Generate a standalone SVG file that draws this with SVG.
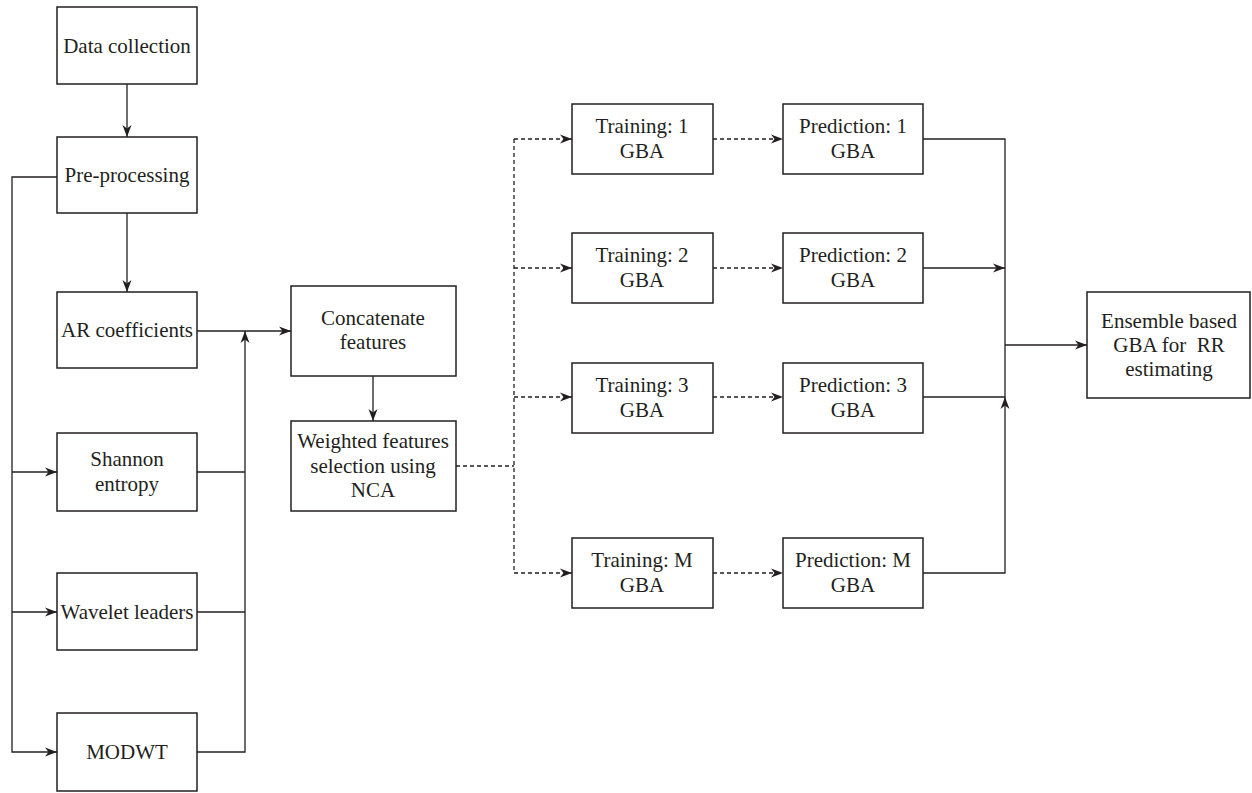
<svg xmlns="http://www.w3.org/2000/svg" width="1252" height="793" viewBox="0 0 1252 793">
  <style>
    .box { fill: #ffffff; stroke: #231f20; stroke-width: 1.5; }
    .lbl { font-family: "Liberation Serif", "Times New Roman", serif; font-size: 21px; fill: #231f20; text-anchor: middle; }
    .wire { fill: none; stroke: #231f20; stroke-width: 1.3; }
    .dash { stroke-dasharray: 4 3; }
  </style>
  <defs>
    <marker id="arrow" markerUnits="userSpaceOnUse" markerWidth="13" markerHeight="11" refX="12" refY="5.5" orient="auto">
      <path d="M0,1 L12,5.5 L0,10 L3.5,5.5 z" fill="#231f20"/>
    </marker>
  </defs>
  <rect width="1252" height="793" fill="#ffffff"/>

  <!-- connectors -->
  <g id="connectors">
    <line class="wire" x1="127" y1="84" x2="127" y2="137" marker-end="url(#arrow)"/>
    <line class="wire" x1="127" y1="213" x2="127" y2="292" marker-end="url(#arrow)"/>
    <path class="wire" d="M57,177 H12 V752 H57" marker-end="url(#arrow)"/>
    <path class="wire" d="M12,472 H57" marker-end="url(#arrow)"/>
    <path class="wire" d="M12,612 H57" marker-end="url(#arrow)"/>
    <path class="wire" d="M197,331 H291" marker-end="url(#arrow)"/>
    <path class="wire" d="M197,472 H245"/>
    <path class="wire" d="M197,612 H245"/>
    <path class="wire" d="M197,752 H245 V331" marker-end="url(#arrow)"/>
    <line class="wire" x1="373" y1="376" x2="373" y2="421" marker-end="url(#arrow)"/>

    <path class="wire dash" d="M456,466 H514"/>
    <path class="wire dash" d="M514,139 V573"/>
    <path class="wire dash" d="M514,139 H572" marker-end="url(#arrow)"/>
    <path class="wire dash" d="M514,268 H572" marker-end="url(#arrow)"/>
    <path class="wire dash" d="M514,397 H572" marker-end="url(#arrow)"/>
    <path class="wire dash" d="M514,573 H572" marker-end="url(#arrow)"/>
    <path class="wire dash" d="M713,139 H783" marker-end="url(#arrow)"/>
    <path class="wire dash" d="M713,268 H783" marker-end="url(#arrow)"/>
    <path class="wire dash" d="M713,397 H783" marker-end="url(#arrow)"/>
    <path class="wire dash" d="M713,573 H783" marker-end="url(#arrow)"/>

    <path class="wire" d="M923,139 H1005 V397"/>
    <path class="wire" d="M923,268 H1005" marker-end="url(#arrow)"/>
    <path class="wire" d="M923,397 H1005"/>
    <path class="wire" d="M923,573 H1005 V397" marker-end="url(#arrow)"/>
    <path class="wire" d="M1005,345 H1087" marker-end="url(#arrow)"/>
  </g>

  <!-- left column -->
  <g id="data-collection">
    <rect class="box" x="57" y="7" width="140" height="77"/>
    <text class="lbl" x="127" y="53">Data collection</text>
  </g>
  <g id="pre-processing">
    <rect class="box" x="57" y="137" width="140" height="76"/>
    <text class="lbl" x="127" y="182">Pre-processing</text>
  </g>
  <g id="ar-coefficients">
    <rect class="box" x="57" y="292" width="140" height="76"/>
    <text class="lbl" x="127" y="337">AR coefficients</text>
  </g>
  <g id="shannon-entropy">
    <rect class="box" x="57" y="433" width="140" height="78"/>
    <text class="lbl" x="127" y="466">Shannon</text>
    <text class="lbl" x="127" y="491">entropy</text>
  </g>
  <g id="wavelet-leaders">
    <rect class="box" x="57" y="573" width="140" height="77"/>
    <text class="lbl" x="127" y="619">Wavelet leaders</text>
  </g>
  <g id="modwt">
    <rect class="box" x="57" y="713" width="140" height="78"/>
    <text class="lbl" x="127" y="759">MODWT</text>
  </g>

  <!-- feature fusion -->
  <g id="concatenate">
    <rect class="box" x="291" y="286" width="165" height="90"/>
    <text class="lbl" x="373" y="325">Concatenate</text>
    <text class="lbl" x="373" y="349">features</text>
  </g>
  <g id="nca-selection">
    <rect class="box" x="291" y="421" width="165" height="90"/>
    <text class="lbl" x="373" y="448">Weighted features</text>
    <text class="lbl" x="373" y="473">selection using</text>
    <text class="lbl" x="373" y="497">NCA</text>
  </g>

  <!-- training models -->
  <g id="training-1">
    <rect class="box" x="572" y="104" width="141" height="70"/>
    <text class="lbl" x="642" y="133">Training: 1</text>
    <text class="lbl" x="642" y="158">GBA</text>
  </g>
  <g id="training-2">
    <rect class="box" x="572" y="233" width="141" height="70"/>
    <text class="lbl" x="642" y="262">Training: 2</text>
    <text class="lbl" x="642" y="287">GBA</text>
  </g>
  <g id="training-3">
    <rect class="box" x="572" y="363" width="141" height="70"/>
    <text class="lbl" x="642" y="392">Training: 3</text>
    <text class="lbl" x="642" y="417">GBA</text>
  </g>
  <g id="training-m">
    <rect class="box" x="572" y="538" width="141" height="70"/>
    <text class="lbl" x="642" y="567">Training: M</text>
    <text class="lbl" x="642" y="592">GBA</text>
  </g>

  <!-- prediction models -->
  <g id="prediction-1">
    <rect class="box" x="783" y="104" width="140" height="70"/>
    <text class="lbl" x="853" y="133">Prediction: 1</text>
    <text class="lbl" x="853" y="158">GBA</text>
  </g>
  <g id="prediction-2">
    <rect class="box" x="783" y="233" width="140" height="70"/>
    <text class="lbl" x="853" y="262">Prediction: 2</text>
    <text class="lbl" x="853" y="287">GBA</text>
  </g>
  <g id="prediction-3">
    <rect class="box" x="783" y="363" width="140" height="70"/>
    <text class="lbl" x="853" y="392">Prediction: 3</text>
    <text class="lbl" x="853" y="417">GBA</text>
  </g>
  <g id="prediction-m">
    <rect class="box" x="783" y="538" width="140" height="70"/>
    <text class="lbl" x="853" y="567">Prediction: M</text>
    <text class="lbl" x="853" y="592">GBA</text>
  </g>

  <!-- ensemble output -->
  <g id="ensemble">
    <rect class="box" x="1087" y="292" width="163" height="106"/>
    <text class="lbl" x="1169" y="328">Ensemble based</text>
    <text class="lbl" x="1169" y="352">GBA for&#160; RR</text>
    <text class="lbl" x="1169" y="376">estimating</text>
  </g>
</svg>
